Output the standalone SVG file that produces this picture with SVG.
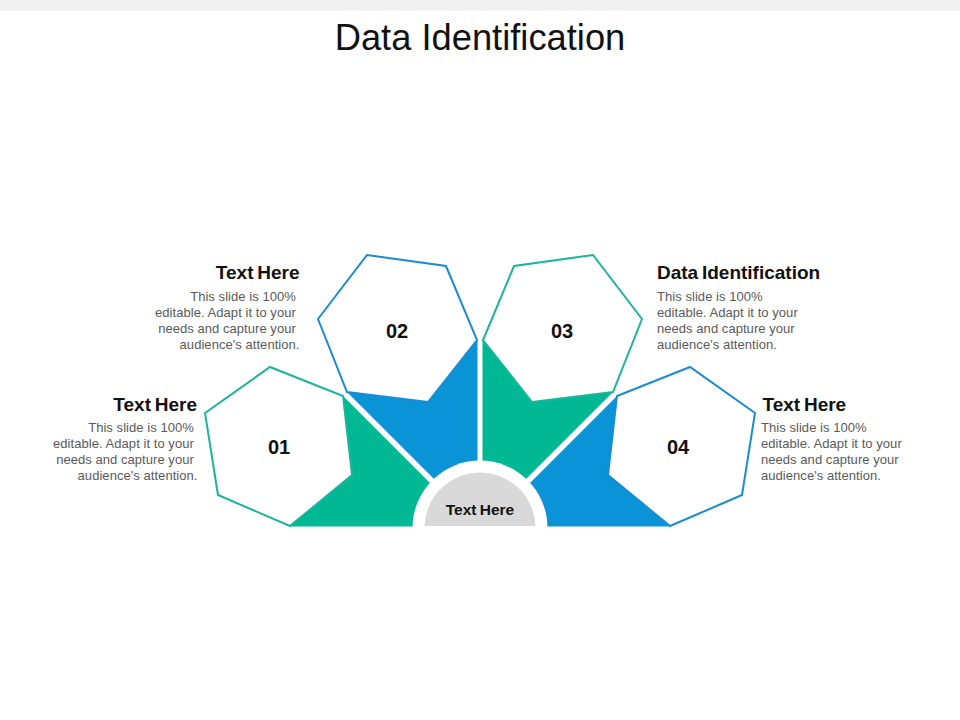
<svg xmlns="http://www.w3.org/2000/svg" width="960" height="720" viewBox="0 0 960 720">
  <style>
    .title { font-family: "Liberation Sans", Arial, sans-serif; font-size: 36.3px; fill: #111; }
    .head { font-family: "Liberation Sans", Arial, sans-serif; font-size: 19px; font-weight: bold; fill: #111; word-spacing: -1.5px; }
    .body { font-family: "Liberation Sans", Arial, sans-serif; font-size: 13px; fill: #5a5a5a; letter-spacing: 0.05px; }
    .num { font-family: "Liberation Sans", Arial, sans-serif; font-size: 20px; font-weight: bold; fill: #111; text-anchor: middle; }
    .center { font-family: "Liberation Sans", Arial, sans-serif; font-size: 15.5px; font-weight: bold; fill: #111; text-anchor: middle; word-spacing: -1px; }
    .teal { fill: #00b894; }
    .blue { fill: #0a93d6; }
    .hexT { fill: #ffffff; stroke: #1bb59a; stroke-width: 2; stroke-linejoin: miter; }
    .hexB { fill: #ffffff; stroke: #1a8ccf; stroke-width: 2; stroke-linejoin: miter; }
  </style>
  <rect x="0" y="0" width="960" height="10.5" fill="#f0f0f0"/>
  <text class="title" x="480" y="50" text-anchor="middle">Data Identification</text>

  <g id="connectors">
    <polygon class="teal" points="343,396 472,525 472,526.5 290,526.5 352,475"/>
    <polygon class="blue" points="347,392 428,402 477,340 477.5,340 477.5,522.5"/>
    <polygon class="teal" points="613,392 532,402 483,340 482.5,340 482.5,522.5"/>
    <polygon class="blue" points="617,396 488,525 488,526.5 670,526.5 608,475"/>
  </g>

  <g id="center">
    <circle cx="480" cy="528" r="67.5" fill="#ffffff"/>
    <path d="M 424.54 526 A 55.5 55.5 0 0 1 535.46 526 Z" fill="#d9d9d9"/>
    <text class="center" x="480" y="515">Text Here</text>
  </g>

  <g id="node-01">
    <polygon class="hexT" points="205,413 270,367 343,396 352,475 290,526 218,495"/>
    <text class="num" x="279" y="453.5">01</text>
    <text class="head" x="197" y="411" text-anchor="end">Text Here</text>
    <text class="body" text-anchor="end">
      <tspan x="197.5" y="432">This slide is 100%</tspan>
      <tspan x="197.5" y="448">editable. Adapt it to your</tspan>
      <tspan x="197.5" y="464">needs and capture your</tspan>
      <tspan x="197.5" y="480">audience's attention.</tspan>
    </text>
  </g>

  <g id="node-02">
    <polygon class="hexB" points="318,319 367,255 446,266 477,340 428,402 347,392"/>
    <text class="num" x="397" y="338">02</text>
    <text class="head" x="299.5" y="279" text-anchor="end">Text Here</text>
    <text class="body" text-anchor="end">
      <tspan x="299.5" y="300.5">This slide is 100%</tspan>
      <tspan x="299.5" y="316.5">editable. Adapt it to your</tspan>
      <tspan x="299.5" y="332.5">needs and capture your</tspan>
      <tspan x="299.5" y="348.5">audience's attention.</tspan>
    </text>
  </g>

  <g id="node-03">
    <polygon class="hexT" points="642,319 593,255 514,266 483,340 532,402 613,392"/>
    <text class="num" x="562" y="337.5">03</text>
    <text class="head" x="657" y="279">Data Identification</text>
    <text class="body">
      <tspan x="657" y="300.5">This slide is 100%</tspan>
      <tspan x="657" y="316.5">editable. Adapt it to your</tspan>
      <tspan x="657" y="332.5">needs and capture your</tspan>
      <tspan x="657" y="348.5">audience's attention.</tspan>
    </text>
  </g>

  <g id="node-04">
    <polygon class="hexB" points="755,413 690,367 617,396 608,475 670,526 742,495"/>
    <text class="num" x="678" y="454">04</text>
    <text class="head" x="762.5" y="411">Text Here</text>
    <text class="body">
      <tspan x="761" y="432">This slide is 100%</tspan>
      <tspan x="761" y="448">editable. Adapt it to your</tspan>
      <tspan x="761" y="464">needs and capture your</tspan>
      <tspan x="761" y="480">audience's attention.</tspan>
    </text>
  </g>
</svg>
